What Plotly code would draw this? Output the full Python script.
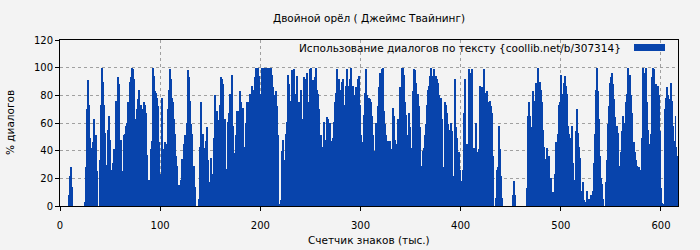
import plotly.graph_objects as go

# Usage of dialogue (%) per 1k characters of text
seg_000_059 = [0, 0, 0, 0, 0, 0, 0, 0, 8, 22, 28, 14,
               0, 0, 0, 0, 0, 0, 0, 0, 0, 0, 0, 0,
               3, 28, 70, 91, 73, 49, 36, 42, 46, 63, 47, 51, 25, 0, 0,
               33, 73, 100, 90, 73, 53, 7, 30, 55, 65, 48, 26, 11, 31, 41, 41, 76, 76, 93, 88, 48]
seg_060_121 = [48, 2, 25, 51, 52, 58, 60, 75, 71, 90,
               93, 100, 99, 92, 61, 63, 70, 77, 84, 69,
               73, 70, 52, 75, 73, 67, 37, 14, 19, 19,
               41, 47, 100, 94, 83, 82, 78, 72, 46, 22,
               23, 78, 41, 37, 46, 33, 45, 70, 84, 99,
               92, 78, 75, 63, 52, 36, 29, 15, 15, 8,
               19, 34]
seg_122_183 = [33, 45, 51, 42, 60, 98, 93, 76, 59, 52,
               26, 29, 14, 0, 0, 0, 5, 43, 75, 46,
               52, 42, 42, 47, 57, 33, 5, 17, 35, 23,
               16, 49, 80, 53, 69, 62, 38, 73, 93, 92,
               88, 63, 63, 20, 27, 61, 67, 81, 59, 95,
               58, 38, 23, 51, 69, 69, 54, 83, 75, 43,
               71, 43]
seg_184_245 = [42, 60, 75, 75, 69, 81, 81, 87, 65, 84,
               93, 100, 96, 100, 94, 81, 69, 100, 84, 100,
               100, 99, 100, 94, 100, 88, 100, 95, 86, 80,
               77, 83, 72, 51, 1, 0, 4, 40, 48, 17,
               33, 52, 61, 95, 88, 76, 63, 98, 89, 99,
               81, 75, 94, 59, 75, 68, 84, 63, 52, 93,
               92, 64]
seg_246_307 = [96, 53, 75, 99, 100, 89, 91, 90, 93, 100,
               84, 81, 70, 37, 51, 22, 43, 61, 34, 48,
               64, 63, 46, 60, 47, 33, 49, 61, 75, 82,
               99, 73, 92, 84, 84, 90, 92, 73, 72, 87,
               99, 35, 87, 92, 100, 86, 87, 72, 80, 86,
               84, 92, 94, 73, 51, 46, 45, 66, 82, 99,
               80, 78]
seg_308_369 = [78, 77, 75, 65, 51, 33, 40, 60, 59, 72,
               86, 96, 78, 99, 100, 69, 59, 51, 45, 47,
               41, 47, 12, 41, 71, 65, 48, 45, 28, 63,
               22, 86, 81, 100, 100, 95, 75, 66, 51, 24,
               67, 57, 42, 25, 83, 99, 98, 89, 63, 81,
               72, 57, 29, 29, 40, 42, 51, 59, 73, 84,
               87, 94]
seg_370_431 = [100, 89, 94, 99, 92, 94, 92, 89, 80, 58,
               78, 63, 28, 22, 75, 73, 67, 59, 45, 55,
               60, 54, 16, 22, 92, 57, 49, 36, 39, 26,
               8, 18, 26, 67, 92, 4, 45, 20, 99, 96,
               17, 99, 40, 42, 39, 60, 39, 29, 41, 87,
               83, 86, 84, 99, 82, 77, 83, 75, 75, 76,
               72, 67]
seg_432_493 = [36, 0, 0, 6, 26, 28, 58, 41, 22, 6,
               0, 0, 0, 0, 0, 0, 0, 0, 0, 0,
               8, 18, 8, 0, 0, 0, 0, 0, 0, 0,
               0, 0, 0, 0, 13, 65, 75, 65, 57, 54,
               83, 65, 76, 89, 78, 100, 89, 90, 84, 75,
               55, 43, 33, 34, 42, 26, 36, 18, 20, 5,
               10, 10]
seg_494_555 = [23, 46, 31, 52, 73, 75, 95, 72, 81, 89,
               94, 87, 81, 58, 52, 40, 49, 58, 31, 19,
               19, 54, 70, 53, 43, 35, 11, 7, 17, 4,
               1, 3, 11, 5, 5, 4, 8, 7, 11, 31,
               52, 84, 100, 83, 63, 36, 20, 16, 5, 0,
               0, 17, 33, 59, 72, 89, 93, 96, 88, 77,
               64, 53]
seg_556_616 = [58, 53, 29, 1, 39, 54, 65, 60, 55, 75,
               81, 100, 89, 95, 80, 67, 43, 46, 39, 33,
               29, 14, 28, 26, 26, 49, 100, 96, 90, 100,
               75, 55, 45, 30, 52, 93, 100, 99, 81, 88,
               84, 87, 80, 54, 13, 2, 1, 1, 70, 78,
               86, 80, 77, 67, 89, 76, 58, 47, 65, 43,
               36]

values = (seg_000_059 + seg_060_121 + seg_122_183 + seg_184_245 + seg_246_307
          + seg_308_369 + seg_370_431 + seg_432_493 + seg_494_555 + seg_556_616)
counter = list(range(len(values)))  # thousands of characters

title_text = "Двойной орёл ( Джеймс Твайнинг)"
series_name = "Использование диалогов по тексту {coollib.net/b/307314}"
x_title = "Счетчик знаков (тыс.)"
y_title = "% диалогов"
x_ticks = [0, 100, 200, 300, 400, 500, 600]
y_ticks = [0, 20, 40, 60, 80, 100, 120]

BLUE = "#0844ac"
BG = "#f3f3f3"
FONT = "DejaVu Sans"

fig = go.Figure()
fig.add_trace(go.Bar(
    x=counter, y=values, width=1, offset=0,
    marker=dict(color=BLUE, line=dict(width=0)),
    name=series_name, showlegend=False,
))

grid = dict(showgrid=True, gridcolor="#a0a0a0", gridwidth=1, griddash="3px,3px")
fig.update_layout(
    width=700, height=250,
    margin=dict(l=60, r=22, t=40, b=44, autoexpand=False),
    paper_bgcolor=BG, plot_bgcolor=BG,
    font=dict(family=FONT, size=10, color="#000"),
    bargap=0,
    title=dict(text=title_text, x=369 / 700, xanchor="center", y=1 - 18 / 250,
               yanchor="middle", font=dict(size=10.5, family=FONT, color="#000")),
    xaxis=dict(range=[0, 617], tickvals=x_ticks, ticks="outside", ticklen=4,
               tickcolor="#000", showline=True, linecolor="#000", linewidth=1,
               mirror=True, zeroline=False, ticklabelstandoff=6, automargin=False,
               **grid),
    yaxis=dict(range=[0, 120], tickvals=y_ticks, ticks="outside", ticklen=4,
               tickcolor="#000", showline=True, linecolor="#000", linewidth=1,
               mirror=True, zeroline=False, automargin=False,
               **grid),
)

# axis titles
fig.add_annotation(text=x_title, xref="paper", yref="paper",
                   x=0.5, y=-(240 - 206) / 166, xanchor="center", yanchor="middle",
                   showarrow=False, font=dict(size=10.5, family=FONT, color="#000"))
fig.add_annotation(text=y_title, xref="paper", yref="paper", textangle=-90,
                   x=-(60 - 10) / 618, y=(206 - 123) / 166, xanchor="center",
                   yanchor="middle", showarrow=False,
                   font=dict(size=10.5, family=FONT, color="#000"))

# legend (text with swatch on its right, as in the original)
fig.add_annotation(text=series_name, xref="paper", yref="paper",
                   x=(623 - 60) / 618, y=1 - (47.5 - 40) / 166,
                   xanchor="right", yanchor="middle", showarrow=False,
                   font=dict(size=10.5, family=FONT, color="#000"))
fig.add_shape(type="rect", xref="paper", yref="paper",
              x0=(634 - 60) / 618, x1=(665 - 60) / 618,
              y0=1 - (51 - 40) / 166, y1=1 - (44 - 40) / 166,
              fillcolor=BLUE, line=dict(width=0))

fig.write_html("out.html")
